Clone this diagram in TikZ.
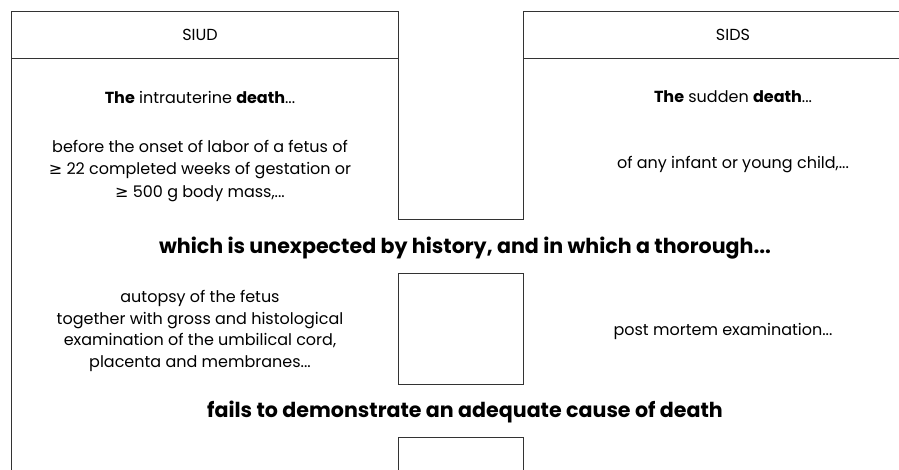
\documentclass[tikz,border=0pt]{standalone}
\usepackage{fontspec}
\setmainfont{Poppins}
\newfontfamily\symfont{DejaVu Sans}
\newcommand{\atleast}{{\symfont ≥}}
\begin{document}
\begin{tikzpicture}
  [x=1pt,y=-1pt,every node/.style={align=center,inner sep=0pt,font=\fontsize{16}{21.5}\selectfont},
   heavy/.style={font=\fontsize{20.6}{22}\selectfont\bfseries},
   frame/.style={line width=.9pt,black!80}]
  \useasboundingbox (0,0) rectangle (899,470);
  % outline of the two columns
  \draw[frame] (11,470) -- (11,11) -- (398,11) -- (398,219) -- (523,219) -- (523,11) -- (899,11);
  \draw[frame] (11,58) -- (398,58) (523,58) -- (899,58);
  \draw[frame] (398,273) rectangle (523,384);
  \draw[frame] (398,470) -- (398,437) -- (523,437) -- (523,470);

  \node (siud) at (200,35) {SIUD};
  \node (sids) at (733,35) {SIDS};
  \node (siudThe) at (200,97) {\textbf{The} intrauterine \textbf{death}...};
  \node (sidsThe) at (733,97) {\textbf{The} sudden \textbf{death}...};
  \node[font=\fontsize{16}{22.5}\selectfont] (siudDef) at (200,171) {before the onset of labor of a fetus of\\
    \atleast{} 22 completed weeks of gestation or\\ \atleast{} 500 g body mass,...};
  \node (sidsDef) at (733,165) {of any infant or young child,...};
  \node[heavy] (unexp) at (465,248) {which is unexpected by history, and in which a thorough...};
  \node (autopsy) at (200,331) {autopsy of the fetus\\ together with gross and histological\\
    examination of the umbilical cord,\\ placenta and membranes...};
  \node (pm) at (723,331) {post mortem examination...};
  \node[heavy] (fails) at (465,412) {fails to demonstrate an adequate cause of death};
\end{tikzpicture}
\end{document}
